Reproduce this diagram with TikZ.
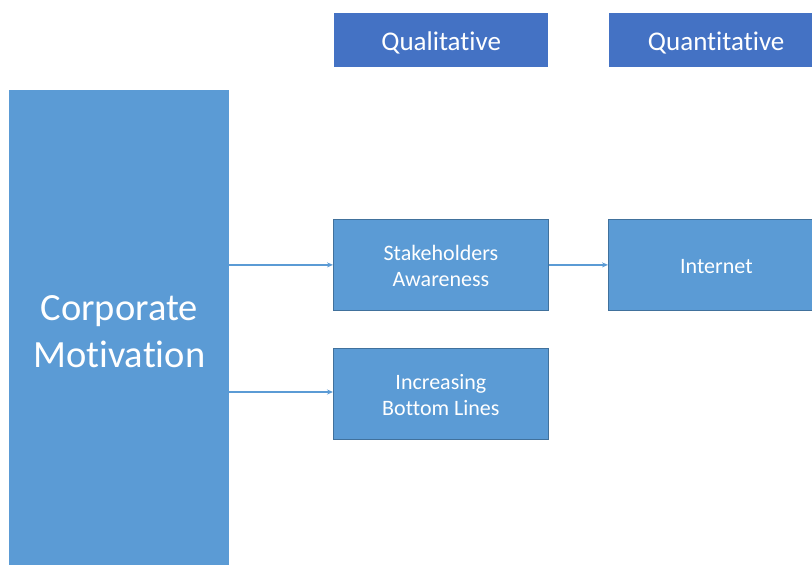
\documentclass[tikz,border=0pt]{standalone}
\usepackage{fontspec}
\setmainfont[Ligatures=NoCommon]{Carlito}
\usetikzlibrary{arrows.meta}
\definecolor{boxblue}{HTML}{5B9BD5}
\definecolor{headblue}{HTML}{4472C4}
\definecolor{edgeblue}{HTML}{41719C}
\newcommand{\lowerby}[2]{\raisebox{-#1}[\height][\depth]{#2}}
\begin{document}
\begin{tikzpicture}[x=1pt,y=-1pt,
  head/.style={anchor=north west,fill=headblue,draw=none,text=white,inner sep=0pt,
    font=\fontsize{27}{32}\selectfont},
  procbox/.style={anchor=north west,fill=boxblue,draw=edgeblue,line width=0.8pt,text=white,inner sep=0pt,
    align=center,font=\fontsize{22}{26}\selectfont},
  bigbox/.style={anchor=north west,fill=boxblue,draw=none,text=white,inner sep=0pt,
    align=center,font=\fontsize{38.5}{47}\selectfont},
  arr/.style={draw=boxblue,line width=1.4pt,-{Stealth[length=6pt,width=5pt]}}
]
\useasboundingbox (0,0) rectangle (812,565);
\clip (0,0) rectangle (812,565);
\fill[white] (0,0) rectangle (812,565);
\node[head,minimum width=214pt,minimum height=54pt] (qual) at (334,13) {\lowerby{2.5pt}{Qualitative}};
\node[head,minimum width=214pt,minimum height=54pt] (quant) at (609,13) {\lowerby{2.5pt}{Quantitative}};
\node[bigbox,minimum width=220pt,minimum height=482pt] (corp) at (9,90) {Corporate\\Motivation};
\node[procbox,minimum width=215pt,minimum height=91pt] (sa) at (333,219) {\lowerby{1pt}{Stakeholders}\\\lowerby{1pt}{Awareness}};
\node[procbox,minimum width=215pt,minimum height=91pt] (ibl) at (333,348) {\lowerby{1pt}{Increasing}\\\lowerby{1pt}{Bottom Lines}};
\node[procbox,minimum width=216pt,minimum height=91pt] (inet) at (608,219) {\lowerby{2pt}{Internet}};
\draw[arr] (corp.east |- sa.west) -- (sa.west);
\draw[arr] (corp.east |- 0,392) coordinate (c2) -- (ibl.west |- c2);
\draw[arr] (sa.east) -- (inet.west |- sa.east);
\end{tikzpicture}
\end{document}
